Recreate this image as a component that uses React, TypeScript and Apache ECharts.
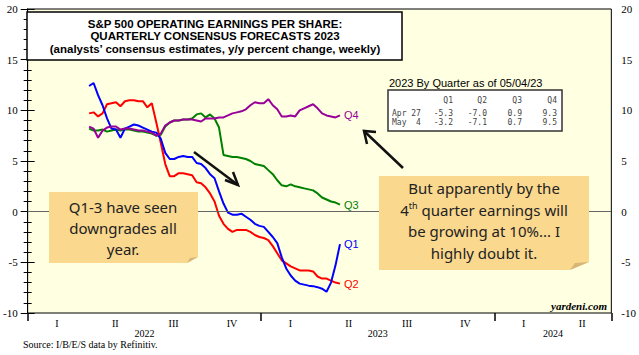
import React, { useEffect, useRef } from "react";
import * as echarts from "echarts";

// ---------------- DATA ----------------
const seriesStart = "2022-04-07"; // weekly observations, through 2023-05-04
const q1Values = [12.4, 12.7, 11.5, 10.5, 9.2, 8.2, 8.1, 7.3, 8.2, 8.4, 8.6, 8.5, 8.3, 8.1, 7.9, 7.8, 7.2, 5.8, 5.2, 5.2, 5.4, 5.5, 5.4, 5.4, 4.8, 4.7, 4.3, 3.7, 3.3, 2.0, 0.8, -0.1, -0.3, -0.3, -0.2, -0.5, -0.8, -1.2, -1.4, -1.5, -2.0, -2.5, -3.1, -4.5, -5.6, -6.3, -6.8, -7.1, -7.2, -7.3, -7.35, -7.45, -7.6, -7.9, -7.0, -5.3, -3.2];
const q2Values = [9.7, 9.8, 9.4, 9.7, 10.6, 10.7, 10.8, 10.4, 10.9, 11.0, 11.0, 10.9, 10.9, 10.3, 10.7, 8.8, 6.8, 4.7, 3.5, 3.5, 3.8, 3.8, 3.7, 3.6, 2.9, 2.8, 2.4, 1.8, 1.0, -0.4, -1.2, -1.7, -2.0, -1.8, -1.8, -1.8, -2.0, -2.3, -2.5, -2.6, -2.8, -3.4, -4.1, -4.8, -5.1, -5.4, -5.6, -5.8, -5.8, -5.8, -5.9, -6.4, -6.6, -6.6, -6.8, -7.0, -7.1];
const q3Values = [8.2, 8.0, 8.0, 8.1, 7.9, 8.0, 8.1, 8.0, 8.1, 8.1, 8.0, 7.9, 7.9, 7.8, 7.7, 7.5, 7.6, 8.4, 8.8, 9.0, 9.0, 9.1, 9.1, 9.2, 9.6, 9.7, 9.3, 9.6, 9.2, 8.3, 5.6, 5.5, 5.4, 5.4, 5.3, 5.2, 5.0, 4.7, 4.6, 4.5, 4.1, 3.7, 3.1, 2.6, 2.5, 2.7, 2.5, 2.4, 2.3, 2.2, 2.1, 1.8, 1.4, 1.2, 1.0, 0.9, 0.7];
const q4Values = [8.4, 8.2, 7.3, 8.0, 8.3, 8.4, 8.4, 8.1, 8.2, 8.2, 8.1, 8.0, 8.0, 7.9, 7.8, 7.5, 7.7, 8.5, 8.8, 9.0, 9.0, 9.1, 9.1, 9.1, 9.0, 8.9, 9.2, 9.2, 9.2, 9.3, 9.3, 9.5, 9.7, 9.8, 9.9, 10.1, 10.5, 10.8, 10.7, 10.7, 11.1, 10.5, 10.1, 9.4, 9.4, 9.5, 9.4, 10.0, 10.2, 10.4, 10.6, 10.2, 9.7, 9.5, 9.4, 9.3, 9.5];

const quarterLabels = ["I", "II", "III", "IV", "I", "II", "III", "IV", "I", "II"];
const yearLabels = ["2022", "2023", "2024"];
const quartersPerYear = [4, 4, 2];
const yTicks = [-10, -5, 0, 5, 10, 15, 20];

const tableTitle = "2023 By Quarter as of 05/04/23";
const tableHeaders = ["Q1", "Q2", "Q3", "Q4"];
const tableRowLabels = ["Apr 27", "May  4"];
const tableApr27 = [-5.3, -7.0, 0.9, 9.3];
const tableMay4 = [-3.2, -7.1, 0.7, 9.5];

const titleLines = [
  "S&P 500 OPERATING EARNINGS PER SHARE:",
  "QUARTERLY CONSENSUS FORECASTS 2023",
  "(analysts\u2019 consensus estimates, y/y percent change, weekly)",
];
const leftNote = ["Q1-3 have seen", "downgrades all", "year."];
const rightNote = ["But apparently by the", "{n|4}{s|th}{n| quarter earnings will}", "be growing at 10%... I", "highly doubt it."];

// --------------------------------------
const DAY = 86400000;
const startMs = Date.parse(seriesStart + "T00:00:00Z");
const weekDates = q1Values.map((_, i) => startMs + i * 7 * DAY);
const toPairs = (vals: number[]) => vals.map((v, i) => [weekDates[i], v]);

const totalQuarters = quartersPerYear.reduce((a, b) => a + b, 0);
const yearCenters: Record<number, string> = {};
{
  let acc = 0;
  quartersPerYear.forEach((n, i) => {
    yearCenters[acc + n / 2] = yearLabels[i];
    acc += n;
  });
}

const SERIF = "'Liberation Serif', 'Times New Roman', serif";
const SANS = "'Liberation Sans', Arial, sans-serif";
const HAND = "'Noto Sans', sans-serif";
const MONO = "'DejaVu Sans Mono', 'Liberation Mono', monospace";

export default function App() {
  const ref = useRef<HTMLDivElement>(null);
  useEffect(() => {
    document.body.style.margin = "0";
    const chart = echarts.init(ref.current!, null, { renderer: "svg" });

    const noteColor = "#FAD88E";
    const foldColor = "#D6B676";

    const tableCols = [453, 487, 522, 557];
    const tableTexts: any[] = [];
    tableHeaders.forEach((h, j) =>
      tableTexts.push({ type: "text", z: 100, style: { text: h, x: tableCols[j], y: 100, align: "right", verticalAlign: "middle", font: `8px ${MONO}`, fill: "#444" } })
    );
    [tableApr27, tableMay4].forEach((row, r) => {
      const y = 113 + r * 9;
      tableTexts.push({ type: "text", z: 100, style: { text: tableRowLabels[r], x: 392, y, align: "left", verticalAlign: "middle", font: `8px ${MONO}`, fill: "#444" } });
      row.forEach((v, j) =>
        tableTexts.push({ type: "text", z: 100, style: { text: v.toFixed(1), x: tableCols[j], y, align: "right", verticalAlign: "middle", font: `8px ${MONO}`, fill: "#444" } })
      );
    });

    const mkSeries = (name: string, vals: number[], color: string) => ({
      name,
      type: "line",
      data: toPairs(vals),
      xAxisIndex: 0,
      yAxisIndex: 0,
      showSymbol: false,
      symbol: "none",
      lineStyle: { color, width: 2 },
      itemStyle: { color },
      endLabel: { show: true, formatter: name, color, fontFamily: SANS, fontSize: 11, distance: 4 },
    });

    const option: any = {
      animation: false,
      grid: {
        left: 24, right: 27, top: 9, bottom: 42,
        show: true, backgroundColor: "#FFFFE2", borderColor: "#000", borderWidth: 1,
      },
      xAxis: [
        {
          type: "time", min: Date.UTC(2022, 0, 1), max: Date.UTC(2024, 6, 1),
          axisLine: { show: true, lineStyle: { color: "#000", width: 1 } },
          axisTick: { show: false }, axisLabel: { show: false }, splitLine: { show: false },
        },
        {
          type: "value", min: 0, max: totalQuarters, interval: 0.5, position: "bottom",
          axisLine: { show: false }, axisTick: { show: false }, splitLine: { show: false },
          axisLabel: {
            show: true, margin: 5, fontFamily: SERIF, fontSize: 10, color: "#000",
            showMinLabel: true, showMaxLabel: true,
            formatter: (v: number) => (Math.round(v * 2) % 2 === 1 ? quarterLabels[Math.floor(v)] : ""),
          },
        },
        {
          type: "value", min: 0, max: totalQuarters, interval: 1, position: "bottom",
          axisLine: { show: false }, axisTick: { show: false }, splitLine: { show: false },
          axisLabel: {
            show: true, margin: 15, fontFamily: SERIF, fontSize: 10, color: "#000",
            formatter: (v: number) => yearCenters[v] || "",
          },
        },
        {
          type: "value", min: 0, max: totalQuarters, interval: 4, position: "bottom",
          axisLine: { show: false }, splitLine: { show: false }, axisLabel: { show: false },
          axisTick: { show: true, length: 8, lineStyle: { color: "#000", width: 1.5 } },
        },
      ],
      yAxis: [0, 1].map((k) => ({
        type: "value", min: yTicks[0], max: yTicks[yTicks.length - 1], interval: 5,
        position: k === 0 ? "left" : "right",
        axisLine: { show: true, lineStyle: { color: "#000", width: 1 } },
        axisTick: { show: true, length: 7, lineStyle: { color: "#000" } },
        minorTick: { show: true, splitNumber: 5, length: 4, lineStyle: { color: "#000" } },
        splitLine: { show: false },
        minorSplitLine: { show: false },
        axisLabel: { margin: 10, fontFamily: SERIF, fontSize: 11, color: "#000" },
      })),
      series: [
        {
          ...mkSeries("Q3", q3Values, "#008000"),
          markLine: {
            silent: true, symbol: "none", label: { show: false },
            lineStyle: { color: "#666", width: 1, type: "solid" },
            data: [{ yAxis: 0 }],
          },
        },
        mkSeries("Q2", q2Values, "#FF0000"),
        mkSeries("Q1", q1Values, "#0000FF"),
        mkSeries("Q4", q4Values, "#990099"),
      ],
      graphic: [
        // title box
        { type: "rect", z: 90, shape: { x: 27, y: 12, width: 375, height: 48 }, style: { fill: "#fff", stroke: "#000", lineWidth: 1.5 } },
        ...titleLines.map((t, i) => ({
          type: "text", z: 100,
          style: { text: t, x: 215, y: [23.5, 36, 48.5][i], align: "center", verticalAlign: "middle", font: `bold 11.5px ${SANS}`, lineHeight: 11.5, fill: "#000" },
        })),
        // table
        { type: "text", z: 100, style: { text: tableTitle, x: 389, y: 83, align: "left", verticalAlign: "middle", font: `11px ${SANS}`, fill: "#000" } },
        { type: "rect", z: 90, shape: { x: 388, y: 90, width: 174, height: 41 }, style: { fill: "#fff", stroke: "#333", lineWidth: 1.5 } },
        ...tableTexts,
        // left note
        { type: "polygon", z: 90, shape: { points: [[49, 192], [198, 192], [198, 257], [187, 263], [49, 263]] }, style: { fill: noteColor } },
        { type: "polygon", z: 91, shape: { points: [[198, 257], [187, 263], [190, 258]] }, style: { fill: foldColor } },
        ...leftNote.map((t, i) => ({
          type: "text", z: 100,
          style: { text: t, x: 123, y: 207 + i * 21, align: "center", verticalAlign: "middle", font: `15px ${HAND}`, fill: "#222" },
        })),
        // right note
        { type: "polygon", z: 90, shape: { points: [[379, 176], [589, 176], [589, 262], [570, 270], [379, 270]] }, style: { fill: noteColor } },
        { type: "polygon", z: 91, shape: { points: [[589, 262], [570, 270], [575, 263]] }, style: { fill: foldColor } },
        ...rightNote.map((t, i) => ({
          type: "text", z: 100,
          style: {
            text: t, x: 484, y: 188 + i * 21.5, align: "center", verticalAlign: "middle", font: `15px ${HAND}`, fill: "#222",
            rich: {
              n: { fontSize: 15, fontFamily: "Noto Sans", fill: "#222", color: "#222" },
              s: { fontSize: 9, fontFamily: "Noto Sans", fill: "#222", color: "#222", verticalAlign: "top", padding: [0, 0, 8, 0] },
            },
          },
        })),
        // arrows
        { type: "line", z: 95, shape: { x1: 194, y1: 152, x2: 238, y2: 185 }, style: { stroke: "#111", lineWidth: 2.5 } },
        { type: "polyline", z: 95, shape: { points: [[225, 180], [238, 185], [233, 172]] }, style: { stroke: "#111", lineWidth: 2.5, fill: null } },
        { type: "line", z: 95, shape: { x1: 403, y1: 168, x2: 364, y2: 131 }, style: { stroke: "#111", lineWidth: 2.5 } },
        { type: "polyline", z: 95, shape: { points: [[376, 132], [364, 131], [367, 144]] }, style: { stroke: "#111", lineWidth: 2.5, fill: null } },
        // watermark & source
        { type: "text", z: 100, style: { text: "yardeni.com", x: 607, y: 306, align: "right", verticalAlign: "middle", font: `italic bold 11px ${SERIF}`, fill: "#000" } },
        { type: "text", z: 100, style: { text: "Source: I/B/E/S data by Refinitiv.", x: 23, y: 344, align: "left", verticalAlign: "middle", font: `10px ${SERIF}`, fill: "#000" } },
      ],
    };
    chart.setOption(option);
    return () => chart.dispose();
  }, []);
  return <div ref={ref} style={{ width: 639, height: 355 }} />;
}
